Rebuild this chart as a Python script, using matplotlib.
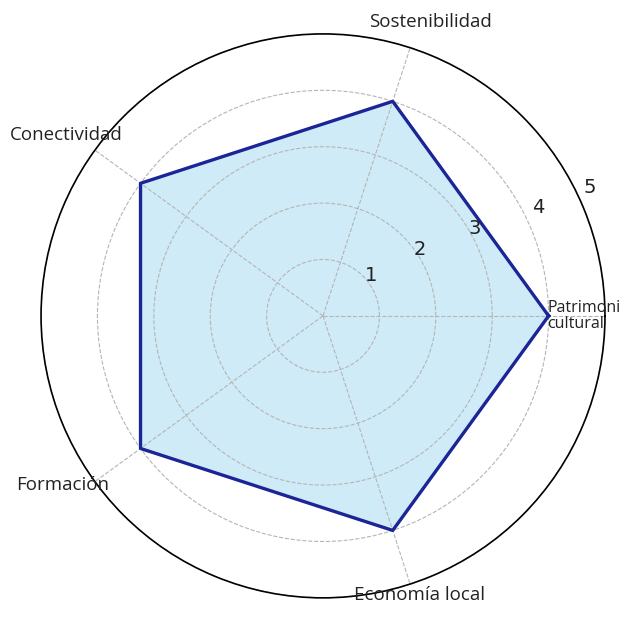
import numpy as np
import matplotlib
matplotlib.use('Agg')
import matplotlib.pyplot as plt

categories = ['Patrimonio\ncultural', 'Sostenibilidad', 'Conectividad', 'Formación', 'Economía local']
values = [4, 4, 4, 4, 4]
r_ticks = [1, 2, 3, 4, 5]
r_tick_labels = ['1', '2', '3', '4', '5']

plt.rcParams['font.family'] = ['Open Sans', 'DejaVu Sans']

fig = plt.figure(figsize=(6.2, 6.28), dpi=100)
ax = fig.add_axes([0.066, 0.048, 0.91, 0.898], polar=True)

angles = np.linspace(0, 2 * np.pi, len(categories), endpoint=False)
closed_a = np.concatenate([angles, angles[:1]])
closed_v = values + values[:1]

ax.fill(closed_a, closed_v, color='#87ceeb', alpha=0.4, zorder=1)
ax.plot(closed_a, closed_v, color='#1c2596', lw=2.4, zorder=3)

ax.set_ylim(0, 5)
ax.set_yticks(r_ticks)
ax.set_yticklabels([])
ax.set_xticks(angles)
ax.set_xticklabels([])
ax.grid(True, color='#b5b5b5', linestyle='--', lw=0.8)
ax.spines['polar'].set_color('black')
ax.spines['polar'].set_linewidth(1.2)

# radial tick labels, drifting slightly off the 22.5 deg line like the original
tick_pos = [(39.8, 1.11), (34.2, 2.08), (30.0, 3.11), (26.7, 4.27), (25.6, 5.25)]
for txt, (ang, rr) in zip(r_tick_labels, tick_pos):
    ax.text(np.deg2rad(ang), rr, txt, ha='center', va='center', fontsize=14,
            family='DejaVu Sans', color='#222222', zorder=4)

# category labels (first one is left aligned and runs to the edge, as in the original)
label_pos = [(0.0, 3.98, 'left', 11.5), (70, 5.55, 'center', 13.5), (144.8, 5.57, 'center', 13.5),
             (213, 5.5, 'center', 13.5), (289, 5.23, 'center', 13.5)]
for name, (ang, rr, ha, fs) in zip(categories, label_pos):
    ax.text(np.deg2rad(ang), rr, name, ha=ha, va='center', multialignment='left',
            fontsize=fs, color='#222222', linespacing=0.95, clip_on=False, zorder=4)

fig.savefig('out.png', dpi=100)
